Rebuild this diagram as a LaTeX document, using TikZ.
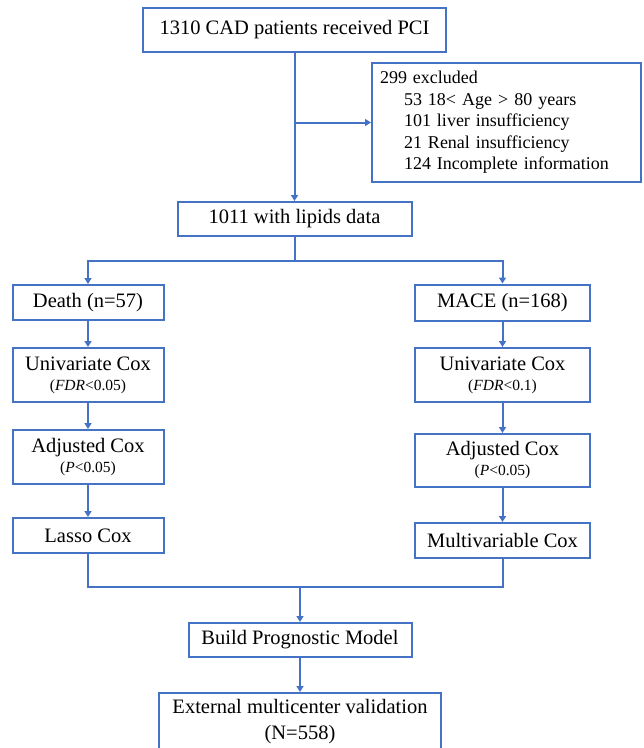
\documentclass[tikz,border=0pt]{standalone}
\usepackage{fontspec}
\setmainfont{Liberation Serif}
\usetikzlibrary{arrows.meta}
\definecolor{lineblue}{HTML}{4472C4}
\newcommand{\condtext}[1]{{\fontsize{15.5}{18}\selectfont(#1)}}

\begin{document}
\begin{tikzpicture}[x=1pt,y=-1pt,
    box/.style={draw=lineblue,line width=2pt,inner sep=2pt,align=center,
      font=\fontsize{20.5}{20}\selectfont},
    link/.style={draw=lineblue,line width=2pt},
    flow/.style={link,-{Triangle[length=6pt,width=7pt]}}]
      \useasboundingbox (0,0) rectangle (644,748);
      \clip (0,0) rectangle (644,748);
      % main column
      \begin{scope}[every node/.style={box}]
      \node[minimum width=303pt,minimum height=44pt] (top) at (294.5,30) {1310 CAD patients received PCI};
      \node[minimum width=234pt,minimum height=34pt] (lip) at (294.5,219) {1011 with lipids data};
      \node[minimum width=223pt,minimum height=34pt] (build) at (300,640) {Build Prognostic Model};
      \node[minimum width=282pt,minimum height=58pt] (ext) at (300,722) {External multicenter validation\\[6pt](N=558)};
      \end{scope}
      \node[draw=lineblue,line width=2pt,inner sep=8pt,text width=253pt,minimum height=119pt,align=left,
        font=\fontsize{18}{21.5}\selectfont] (excl) at (506.5,122.5)
        {299 excluded\\
         \hspace*{24pt}53 18< Age > 80 years\\
         \hspace*{24pt}101 liver insufficiency\\
         \hspace*{24pt}21 Renal insufficiency\\
         \hspace*{24pt}124 Incomplete information};
      % death branch
      \begin{scope}[every node/.style={box,minimum width=151pt}]
      \node[minimum height=35pt] (death) at (88,302.5) {Death (n=57)};
      \node[minimum height=54pt] (uniL) at (88,375) {Univariate Cox\\\condtext{\textit{FDR}<0.05}};
      \node[minimum height=54pt] (adjL) at (88,457) {Adjusted Cox\\\condtext{\textit{P}<0.05}};
      \node[minimum height=35pt] (lasso) at (88,535.5) {Lasso Cox};
      \end{scope}
      % MACE branch
      \begin{scope}[every node/.style={box,minimum width=175pt}]
      \node[minimum height=36pt] (mace) at (502.5,302.5) {MACE (n=168)};
      \node[minimum height=54pt] (uniR) at (502.5,375) {Univariate Cox\\\condtext{\textit{FDR}<0.1}};
      \node[minimum height=53pt] (adjR) at (502.5,460.5) {Adjusted Cox\\\condtext{\textit{P}<0.05}};
      \node[minimum height=35pt] (multi) at (502.5,540.5) {Multivariable Cox};
      \end{scope}
      \coordinate (split) at (294.5,261);
      \coordinate (merge) at (300,587);
      \draw[flow] (top) -- (lip);
      \draw[flow] (excl.west -| top.south) -- (excl);
      \draw[flow] (lip) -- (split) -| (death);
      \draw[flow] (split) -| (mace);
      \draw[flow] (death) -- (uniL);
      \draw[flow] (uniL) -- (adjL);
      \draw[flow] (adjL) -- (lasso);
      \draw[flow] (mace) -- (uniR);
      \draw[flow] (uniR) -- (adjR);
      \draw[flow] (adjR) -- (multi);
      \draw[link] (lasso) |- (merge);
      \draw[link] (multi) |- (merge);
      \draw[flow] (merge) -- (build);
      \draw[flow] (build) -- (ext);
      \end{tikzpicture}
\end{document}
